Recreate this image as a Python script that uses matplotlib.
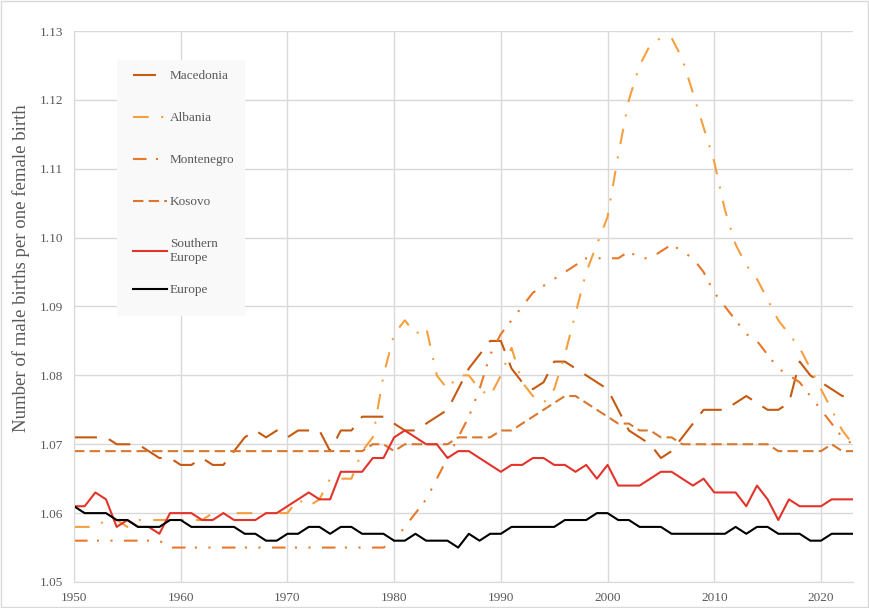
import numpy as np
import matplotlib
matplotlib.use("Agg")
import matplotlib.pyplot as plt
from matplotlib.patches import Rectangle
from matplotlib.ticker import FormatStrFormatter

# ---- data ----
years = np.arange(1950, 2024)

macedonia = [1.071, 1.071, 1.071, 1.071, 1.070, 1.070, 1.070, 1.069, 1.068, 1.068,
             1.067, 1.067, 1.068, 1.067, 1.067, 1.069, 1.071, 1.072, 1.071, 1.072,
             1.071, 1.072, 1.072, 1.072, 1.069, 1.072, 1.072, 1.074, 1.074, 1.074,
             1.073, 1.072, 1.072, 1.073, 1.074, 1.075, 1.078, 1.081, 1.083, 1.085,
             1.085, 1.081, 1.079, 1.078, 1.079, 1.082, 1.082, 1.081, 1.080, 1.079,
             1.078, 1.075, 1.072, 1.071, 1.070, 1.068, 1.069, 1.071, 1.073, 1.075,
             1.075, 1.075, 1.076, 1.077, 1.076, 1.075, 1.075, 1.076, 1.082, 1.080,
             1.079, 1.078, 1.077, 1.077]

albania = [1.058, 1.058, 1.058, 1.059, 1.059, 1.058, 1.059, 1.059, 1.059, 1.059,
           1.059, 1.059, 1.059, 1.060, 1.060, 1.060, 1.060, 1.060, 1.060, 1.060,
           1.060, 1.062, 1.061, 1.062, 1.065, 1.065, 1.065, 1.069, 1.071, 1.080,
           1.086, 1.088, 1.086, 1.087, 1.080, 1.078, 1.080, 1.080, 1.078, 1.077,
           1.080, 1.084, 1.079, 1.077, 1.076, 1.078, 1.083, 1.089, 1.095, 1.099,
           1.103, 1.112, 1.120, 1.125, 1.128, 1.129, 1.129, 1.126, 1.121, 1.116,
           1.111, 1.104, 1.099, 1.096, 1.094, 1.091, 1.088, 1.086, 1.084, 1.081,
           1.078, 1.075, 1.072, 1.070]

montenegro = [1.056, 1.056, 1.056, 1.056, 1.056, 1.056, 1.056, 1.056, 1.056, 1.055,
              1.055, 1.055, 1.055, 1.055, 1.055, 1.055, 1.055, 1.055, 1.055, 1.055,
              1.055, 1.055, 1.055, 1.055, 1.055, 1.055, 1.055, 1.055, 1.055, 1.055,
              1.056, 1.058, 1.060, 1.062, 1.065, 1.068, 1.071, 1.074, 1.078, 1.083,
              1.086, 1.088, 1.090, 1.092, 1.093, 1.094, 1.095, 1.096, 1.097, 1.097,
              1.097, 1.097, 1.098, 1.097, 1.097, 1.098, 1.099, 1.098, 1.097, 1.095,
              1.092, 1.090, 1.088, 1.086, 1.085, 1.083, 1.081, 1.080, 1.079, 1.077,
              1.075, 1.073, 1.071, 1.070]

kosovo = [1.069, 1.069, 1.069, 1.069, 1.069, 1.069, 1.069, 1.069, 1.069, 1.069,
          1.069, 1.069, 1.069, 1.069, 1.069, 1.069, 1.069, 1.069, 1.069, 1.069,
          1.069, 1.069, 1.069, 1.069, 1.069, 1.069, 1.069, 1.069, 1.070, 1.070,
          1.069, 1.070, 1.070, 1.070, 1.070, 1.070, 1.071, 1.071, 1.071, 1.071,
          1.072, 1.072, 1.073, 1.074, 1.075, 1.076, 1.077, 1.077, 1.076, 1.075,
          1.074, 1.073, 1.073, 1.072, 1.072, 1.071, 1.071, 1.070, 1.070, 1.070,
          1.070, 1.070, 1.070, 1.070, 1.070, 1.070, 1.069, 1.069, 1.069, 1.069,
          1.069, 1.070, 1.069, 1.069]

southern_europe = [1.061, 1.061, 1.063, 1.062, 1.058, 1.059, 1.058, 1.058, 1.057, 1.060,
                   1.060, 1.060, 1.059, 1.059, 1.060, 1.059, 1.059, 1.059, 1.060, 1.060,
                   1.061, 1.062, 1.063, 1.062, 1.062, 1.066, 1.066, 1.066, 1.068, 1.068,
                   1.071, 1.072, 1.071, 1.070, 1.070, 1.068, 1.069, 1.069, 1.068, 1.067,
                   1.066, 1.067, 1.067, 1.068, 1.068, 1.067, 1.067, 1.066, 1.067, 1.065,
                   1.067, 1.064, 1.064, 1.064, 1.065, 1.066, 1.066, 1.065, 1.064, 1.065,
                   1.063, 1.063, 1.063, 1.061, 1.064, 1.062, 1.059, 1.062, 1.061, 1.061,
                   1.061, 1.062, 1.062, 1.062]

europe = [1.061, 1.060, 1.060, 1.060, 1.059, 1.059, 1.058, 1.058, 1.058, 1.059,
          1.059, 1.058, 1.058, 1.058, 1.058, 1.058, 1.057, 1.057, 1.056, 1.056,
          1.057, 1.057, 1.058, 1.058, 1.057, 1.058, 1.058, 1.057, 1.057, 1.057,
          1.056, 1.056, 1.057, 1.056, 1.056, 1.056, 1.055, 1.057, 1.056, 1.057,
          1.057, 1.058, 1.058, 1.058, 1.058, 1.058, 1.059, 1.059, 1.059, 1.060,
          1.060, 1.059, 1.059, 1.058, 1.058, 1.058, 1.057, 1.057, 1.057, 1.057,
          1.057, 1.057, 1.058, 1.057, 1.058, 1.058, 1.057, 1.057, 1.057, 1.056,
          1.056, 1.057, 1.057, 1.057]

x_ticks = [1950, 1960, 1970, 1980, 1990, 2000, 2010, 2020]
y_ticks = [1.05, 1.06, 1.07, 1.08, 1.09, 1.10, 1.11, 1.12, 1.13]

# ---- styling ----
plt.rcParams['font.family'] = ['Liberation Serif', 'DejaVu Serif']
text_color = '#595959'
grid_color = '#D9D9D9'

fig = plt.figure(figsize=(8.7, 6.08), dpi=100)
ax = fig.add_axes([74 / 870, 1 - 582 / 608, (853 - 74) / 870, (582 - 31) / 608])

lw = 1.5
series = [
    (macedonia, "Macedonia", '#C55A11', (0, (11, 6))),
    (albania, "Albania", '#F5A040', (0, (7.5, 6, 1, 6))),
    (montenegro, "Montenegro", '#E8782A', (0, (6.5, 4.5, 1, 5.5, 1, 5.5))),
    (kosovo, "Kosovo", '#D8782F', (0, (5, 2.5))),
    (southern_europe, "Southern\nEurope", '#E3342B', '-'),
    (europe, "Europe", '#000000', '-'),
]
lines = []
for values, label, color, ls in series:
    line, = ax.plot(years, values, color=color, linestyle=ls, linewidth=lw, label=label)
    lines.append(line)

ax.set_xlim(1950, 2023)
ax.set_ylim(1.05, 1.13)
ax.set_xticks(x_ticks)
ax.set_yticks(y_ticks)
ax.yaxis.set_major_formatter(FormatStrFormatter('%.2f'))
ax.grid(True, color=grid_color, linewidth=1)
ax.set_axisbelow(True)
ax.tick_params(length=0, labelsize=9.5, colors=text_color)
ax.tick_params(axis='x', pad=7)
ax.tick_params(axis='y', pad=8)
for side in ['top', 'right']:
    ax.spines[side].set_visible(False)
for side in ['left', 'bottom']:
    ax.spines[side].set_color(grid_color)

ax.set_ylabel("Number of male births per one female birth", fontsize=13.5, color=text_color)
ax.yaxis.set_label_coords(-0.056, 0.57)

# legend with a light background box
ax.add_patch(Rectangle((0.0552, 0.4828), 0.1643, 0.4646, transform=ax.transAxes,
                       facecolor='#F9F9F9', edgecolor='none', zorder=2.5))
leg_kw = dict(loc='upper left', frameon=False, fontsize=9.5, handlelength=2.6,
              handletextpad=0.2, labelspacing=2.25, borderaxespad=0, borderpad=0)
leg1 = ax.legend(handles=lines[:5], bbox_to_anchor=(0.0757, 0.929), **leg_kw)
for t in leg1.get_texts():
    t.set_color(text_color)
ax.add_artist(leg1)
leg2 = ax.legend(handles=lines[5:], bbox_to_anchor=(0.0757, 0.541), **leg_kw)
for t in leg2.get_texts():
    t.set_color(text_color)

# chart area border
fig.patches.append(Rectangle((0.001, 0.001), 0.997, 0.997, transform=fig.transFigure,
                             fill=False, edgecolor=grid_color, linewidth=1))

fig.savefig("out.png", dpi=100)
